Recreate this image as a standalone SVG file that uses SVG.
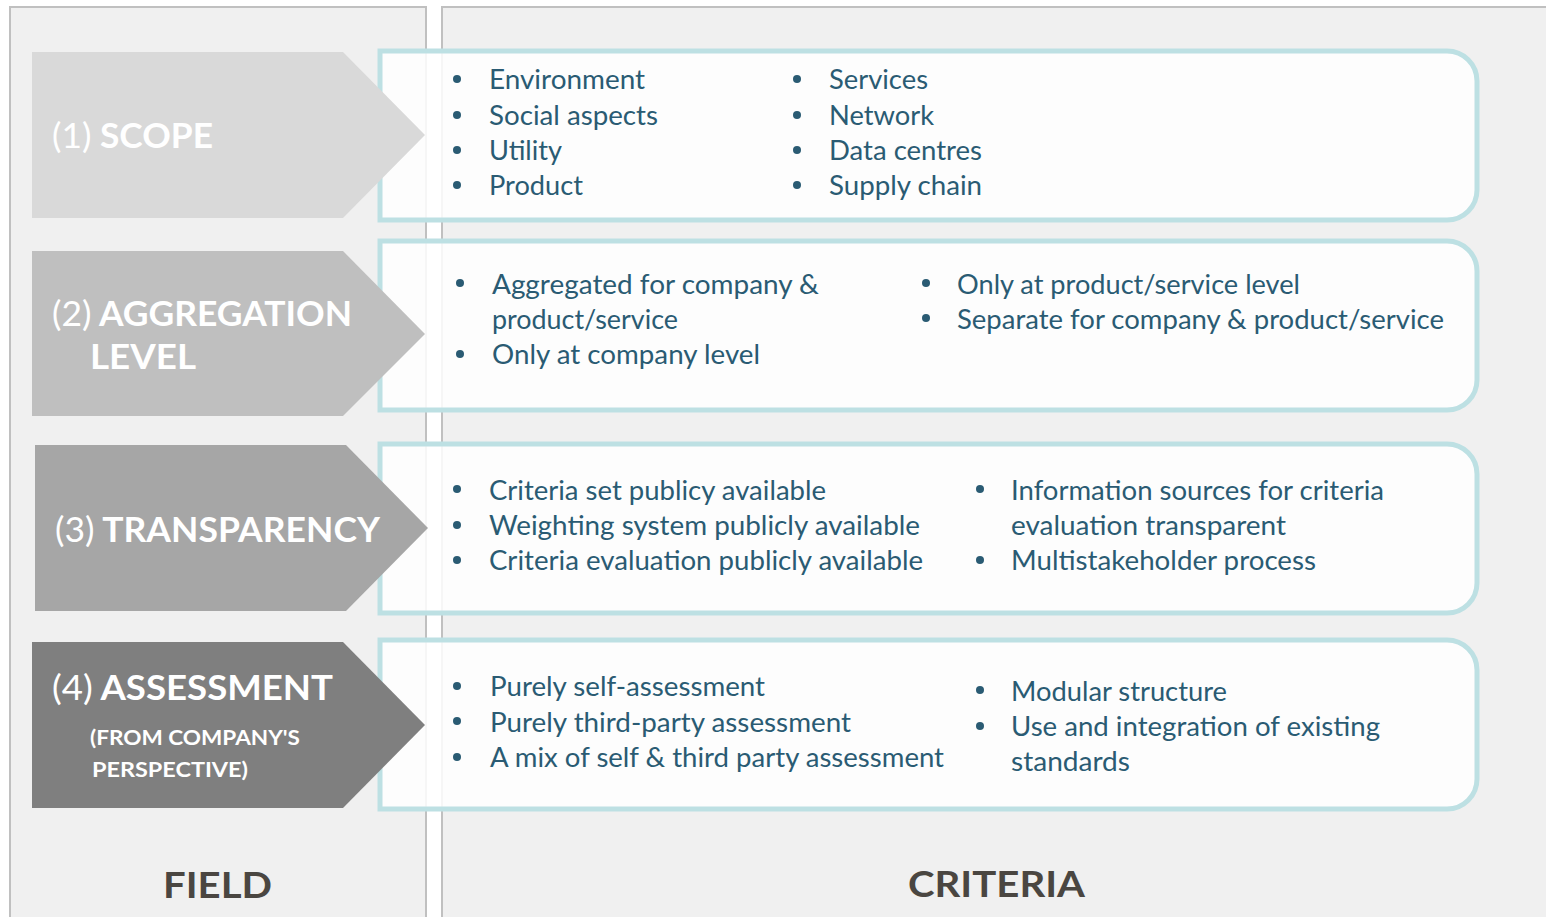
<svg xmlns="http://www.w3.org/2000/svg" width="1546" height="917" viewBox="0 0 1546 917">
<style>
.panel{fill:#f0f0f0;stroke:#c0c0c0;stroke-width:2}
.box{fill:#ffffff;fill-opacity:0.85;stroke:#bde0e3;stroke-width:5}
.hd{font-family:Lato,"Open Sans",sans-serif;fill:#ffffff;font-weight:bold}
.num{font-weight:normal}
.it{font-family:Lato,"Open Sans",sans-serif;font-size:26px;fill:#2a5b73}
.bul{fill:#2a5b73}
.ft{font-family:Lato,"Open Sans",sans-serif;font-size:37px;font-weight:bold;fill:#4a4641}
</style>
<defs>
<path id="boxshape" d="M380,0 H1447 A30,30 0 0 1 1477,30 V139 A30,30 0 0 1 1447,169 H380 Z"/>
</defs>
<rect width="1546" height="917" fill="#ffffff"/>
<rect class="panel" x="10" y="7" width="416" height="930"/>
<rect class="panel" x="442" y="7" width="1120" height="930"/>

<g id="row1">
<use href="#boxshape" class="box" transform="translate(0,51)"/>
<path d="M32,52 H343 L425,135 L343,218 H32 Z" fill="#d9d9d9"/>
<text class="hd" x="52" y="148" font-size="34" textLength="161" lengthAdjust="spacingAndGlyphs"><tspan class="num">(1)</tspan> SCOPE</text>
<g class="bul"><circle cx="457" cy="79" r="4"/><circle cx="457" cy="115" r="4"/><circle cx="457" cy="150" r="4"/><circle cx="457" cy="185" r="4"/>
<circle cx="797" cy="79" r="4"/><circle cx="797" cy="115" r="4"/><circle cx="797" cy="150" r="4"/><circle cx="797" cy="185" r="4"/></g>
<text class="it" x="489" y="89" textLength="156" lengthAdjust="spacingAndGlyphs">Environment</text>
<text class="it" x="489" y="125" textLength="169" lengthAdjust="spacingAndGlyphs">Social aspects</text>
<text class="it" x="489" y="160" textLength="73" lengthAdjust="spacingAndGlyphs">Utility</text>
<text class="it" x="489" y="195" textLength="94" lengthAdjust="spacingAndGlyphs">Product</text>
<text class="it" x="829" y="89" textLength="99" lengthAdjust="spacingAndGlyphs">Services</text>
<text class="it" x="829" y="125" textLength="105" lengthAdjust="spacingAndGlyphs">Network</text>
<text class="it" x="829" y="160" textLength="153" lengthAdjust="spacingAndGlyphs">Data centres</text>
<text class="it" x="829" y="195" textLength="153" lengthAdjust="spacingAndGlyphs">Supply chain</text>
</g>

<g id="row2">
<use href="#boxshape" class="box" transform="translate(0,241)"/>
<path d="M32,251 H343 L425,334 L343,416 H32 Z" fill="#bfbfbf"/>
<text class="hd" x="52" y="326" font-size="34" textLength="300" lengthAdjust="spacingAndGlyphs"><tspan class="num">(2)</tspan> AGGREGATION</text>
<text class="hd" x="90" y="369" font-size="34" textLength="106" lengthAdjust="spacingAndGlyphs">LEVEL</text>
<g class="bul"><circle cx="460" cy="283" r="4"/><circle cx="460" cy="354" r="4"/><circle cx="926" cy="283" r="4"/><circle cx="926" cy="318" r="4"/></g>
<text class="it" x="492" y="294" textLength="327" lengthAdjust="spacingAndGlyphs">Aggregated for company &amp;</text>
<text class="it" x="492" y="329" textLength="186" lengthAdjust="spacingAndGlyphs">product/service</text>
<text class="it" x="492" y="364" textLength="268" lengthAdjust="spacingAndGlyphs">Only at company level</text>
<text class="it" x="957" y="294" textLength="343" lengthAdjust="spacingAndGlyphs">Only at product/service level</text>
<text class="it" x="957" y="329" textLength="487" lengthAdjust="spacingAndGlyphs">Separate for company &amp; product/service</text>
</g>

<g id="row3">
<use href="#boxshape" class="box" transform="translate(0,444)"/>
<path d="M35,445 H346 L428,528 L346,611 H35 Z" fill="#a6a6a6"/>
<text class="hd" x="55" y="542" font-size="34" textLength="325" lengthAdjust="spacingAndGlyphs"><tspan class="num">(3)</tspan> TRANSPARENCY</text>
<g class="bul"><circle cx="457" cy="489" r="4"/><circle cx="457" cy="525" r="4"/><circle cx="457" cy="560" r="4"/><circle cx="980" cy="489" r="4"/><circle cx="980" cy="560" r="4"/></g>
<text class="it" x="489" y="500" textLength="337" lengthAdjust="spacingAndGlyphs">Criteria set publicy available</text>
<text class="it" x="489" y="535" textLength="431" lengthAdjust="spacingAndGlyphs">Weighting system publicly available</text>
<text class="it" x="489" y="570" textLength="434" lengthAdjust="spacingAndGlyphs">Criteria evaluation publicly available</text>
<text class="it" x="1011" y="500" textLength="373" lengthAdjust="spacingAndGlyphs">Information sources for criteria</text>
<text class="it" x="1011" y="535" textLength="275" lengthAdjust="spacingAndGlyphs">evaluation transparent</text>
<text class="it" x="1011" y="570" textLength="305" lengthAdjust="spacingAndGlyphs">Multistakeholder process</text>
</g>

<g id="row4">
<use href="#boxshape" class="box" transform="translate(0,640)"/>
<path d="M32,642 H343 L425,725 L343,808 H32 Z" fill="#7f7f7f"/>
<text class="hd" x="52" y="700" font-size="34" textLength="281" lengthAdjust="spacingAndGlyphs"><tspan class="num">(4)</tspan> ASSESSMENT</text>
<text class="hd" x="90" y="745" font-size="20" textLength="210" lengthAdjust="spacingAndGlyphs">(FROM COMPANY'S</text>
<text class="hd" x="92" y="777" font-size="20" textLength="156" lengthAdjust="spacingAndGlyphs">PERSPECTIVE)</text>
<g class="bul"><circle cx="457" cy="686" r="4"/><circle cx="457" cy="721" r="4"/><circle cx="457" cy="757" r="4"/><circle cx="980" cy="690" r="4"/><circle cx="980" cy="726" r="4"/></g>
<text class="it" x="490" y="696" textLength="275" lengthAdjust="spacingAndGlyphs">Purely self-assessment</text>
<text class="it" x="490" y="732" textLength="361" lengthAdjust="spacingAndGlyphs">Purely third-party assessment</text>
<text class="it" x="490" y="767" textLength="454" lengthAdjust="spacingAndGlyphs">A mix of self &amp; third party assessment</text>
<text class="it" x="1011" y="701" textLength="216" lengthAdjust="spacingAndGlyphs">Modular structure</text>
<text class="it" x="1011" y="736" textLength="369" lengthAdjust="spacingAndGlyphs">Use and integration of existing</text>
<text class="it" x="1011" y="771" textLength="119" lengthAdjust="spacingAndGlyphs">standards</text>
</g>

<g id="connectors"></g>

<text class="ft" x="163" y="898" textLength="109" lengthAdjust="spacingAndGlyphs">FIELD</text>
<text class="ft" x="908" y="897" textLength="177" lengthAdjust="spacingAndGlyphs">CRITERIA</text>
</svg>
